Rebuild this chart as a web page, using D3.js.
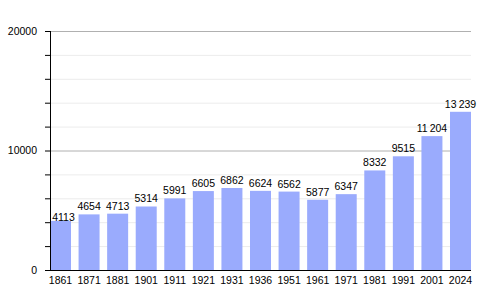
<!DOCTYPE html>
<html>
<head>
<meta charset="utf-8">
<script src="https://cdn.jsdelivr.net/npm/d3@7"></script>
<style>
  body { margin: 0; background: #fff; }
  text { font-family: "Liberation Sans", Arial, sans-serif; fill: #000; }
</style>
</head>
<body>
<script>
// population by census year
let years = ["1861", "1871", "1881", "1901", "1911", "1921", "1931", "1936",
             "1951", "1961", "1971", "1981", "1991", "2001", "2024"];
let population = [4113, 4654, 4713, 5314, 5991, 6605, 6862, 6624,
                  6562, 5877, 6347, 8332, 9515, 11204, 13239];
let majorTicks = [0, 10000, 20000];
let minorTicks = [2000, 4000, 6000, 8000, 12000, 14000, 16000, 18000];

let width = 500, height = 300;
let plotLeft = 50, plotRight = 471, plotTop = 31, plotBottom = 270;

let svg = d3.select("body").append("svg")
    .attr("width", width)
    .attr("height", height);

let x = d3.scaleBand()
    .domain(years)
    .range([plotLeft, plotRight])
    .paddingInner(0.265)
    .paddingOuter(0)
    .align(0);

let y = d3.scaleLinear()
    .domain([0, 20000])
    .range([plotBottom, plotTop]);

// light minor gridlines
svg.append("g")
  .selectAll("line")
  .data(minorTicks)
  .enter().append("line")
    .attr("x1", plotLeft)
    .attr("x2", plotRight)
    .attr("y1", d => y(d) + 0.5)
    .attr("y2", d => y(d) + 0.5)
    .attr("stroke", "#ececec");

// major gridlines
svg.append("g")
  .selectAll("line")
  .data(majorTicks.filter(d => d > 0))
  .enter().append("line")
    .attr("x1", plotLeft)
    .attr("x2", plotRight)
    .attr("y1", d => y(d) + 0.5)
    .attr("y2", d => y(d) + 0.5)
    .attr("stroke", "#b0b0b0");

// bars
svg.append("g")
  .selectAll("rect")
  .data(population)
  .enter().append("rect")
    .attr("x", (d, i) => x(years[i]))
    .attr("width", x.bandwidth())
    .attr("y", d => y(d))
    .attr("height", d => y(0) - y(d))
    .attr("fill", "#9aabfd");

// value labels
let fmt = v => v >= 10000 ? d3.format(",")(v).replace(",", "\u2009") : String(v);
svg.append("g")
  .selectAll("text")
  .data(population)
  .enter().append("text")
    .attr("x", (d, i) => x(years[i]) + x.bandwidth() / 2 + (i === 0 ? 3 : 0))
    .attr("y", (d, i) => y(d) - (i === 0 ? 0 : 4))
    .attr("text-anchor", "middle")
    .style("font-size", "10.5px")
    .text(d => fmt(d));

// y axis with minor ticks
let yAxis = d3.axisLeft(y)
    .tickValues(majorTicks.concat(minorTicks))
    .tickSize(5)
    .tickFormat(d => majorTicks.includes(d) ? d : "");

let gy = svg.append("g")
    .attr("transform", "translate(" + plotLeft + ",0)")
    .call(yAxis);
gy.select(".domain").attr("d", "M0.5," + plotTop + "V" + plotBottom).attr("stroke", "#000");
gy.selectAll(".tick line").attr("stroke", "#000");
gy.selectAll(".tick text")
    .attr("x", -13)
    .style("font-size", "10.5px")
    .attr("fill", "#000")
    .attr("font-family", null);

// x axis
let xAxis = d3.axisBottom(x).tickSize(0).tickPadding(7);
let gx = svg.append("g")
    .attr("transform", "translate(0," + plotBottom + ")")
    .call(xAxis);
gx.select(".domain").attr("d", "M" + plotLeft + ",0.5H" + plotRight).attr("stroke", "#000");
gx.selectAll(".tick text")
    .style("font-size", "10.5px")
    .attr("fill", "#000")
    .attr("font-family", null);
</script>
</body>
</html>
